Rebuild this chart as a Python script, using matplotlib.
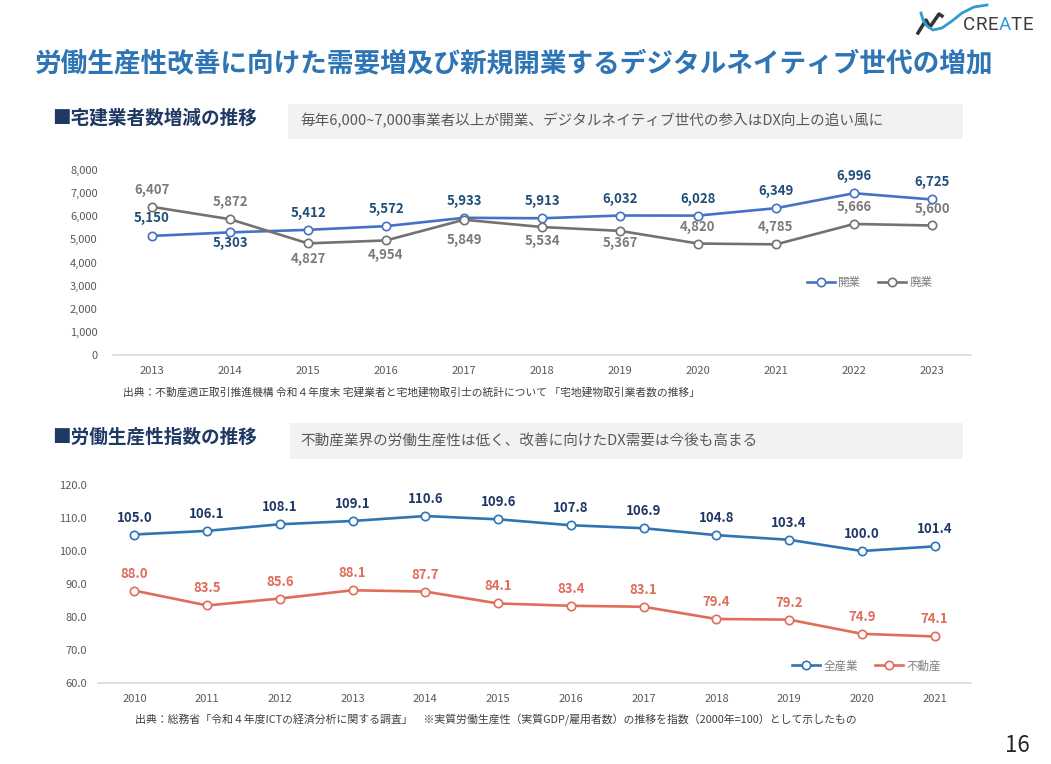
import matplotlib
matplotlib.use("Agg")
import matplotlib.pyplot as plt
from matplotlib.patches import Rectangle
from matplotlib.lines import Line2D

plt.rcParams['font.family'] = ['Noto Sans CJK JP', 'DejaVu Sans']

# --- data -----------------------------------------------------------------
years_top = ["2013", "2014", "2015", "2016", "2017", "2018", "2019", "2020", "2021", "2022", "2023"]
kaigyo = [5150, 5303, 5412, 5572, 5933, 5913, 6032, 6028, 6349, 6996, 6725]     # 開業
haigyo = [6407, 5872, 4827, 4954, 5849, 5534, 5367, 4820, 4785, 5666, 5600]     # 廃業

years_bot = ["2010", "2011", "2012", "2013", "2014", "2015", "2016", "2017", "2018", "2019", "2020", "2021"]
zen_sangyo = [105.0, 106.1, 108.1, 109.1, 110.6, 109.6, 107.8, 106.9, 104.8, 103.4, 100.0, 101.4]  # 全産業
fudosan = [88.0, 83.5, 85.6, 88.1, 87.7, 84.1, 83.4, 83.1, 79.4, 79.2, 74.9, 74.1]              # 不動産

# label offsets in px (positive = above the marker)
kaigyo_off = [18, -11, 17, 17, 17, 17, 17, 17, 17, 17, 17]
haigyo_off = [17, 17, -16, -15, -20, -14, -12, 17, 17, 17, 17]

W, H = 1051, 764
fig = plt.figure(figsize=(W / 100, H / 100), dpi=100)


def fx(x):
    return x / W


def fy(y):
    return 1 - y / H


def line_chart(ax, cats, series, colors, label_colors, offsets, fmt, names, legend_xy):
    xs = list(range(len(cats)))
    for vals, c, lc, offs, name in zip(series, colors, label_colors, offsets, names):
        ax.plot(xs, vals, color=c, lw=1.9, marker="o", ms=6, mfc="white", mec=c, mew=1.2,
                label=name, zorder=3)
        for x, v, o in zip(xs, vals, offs):
            ax.annotate(fmt(v), (x, v), xytext=(0, o * 0.72), textcoords="offset points",
                        ha="center", va="center", fontsize=9.5, fontweight="bold", color=lc)
    ax.set_xticks(xs)
    ax.set_xticklabels(cats)
    ax.set_xlim(-0.5, len(cats) - 0.5)
    for s in ("top", "right", "left"):
        ax.spines[s].set_visible(False)
    ax.spines["bottom"].set_color("#d9d9d9")
    ax.spines["bottom"].set_linewidth(1.2)
    ax.tick_params(length=0, labelsize=8, labelcolor="#595959")
    ax.tick_params(axis="x", pad=8)
    ax.legend(loc="center", bbox_to_anchor=legend_xy, ncol=2, frameon=False, fontsize=8.3,
              labelcolor="#7f7f7f", handlelength=2.4, handletextpad=0.3, columnspacing=1.5)


# --- top chart ----------------------------------------------------------
ax1 = fig.add_axes([fx(113), fy(355), (971 - 113) / W, (355 - 170) / H])
line_chart(ax1, years_top, [kaigyo, haigyo], ["#4472c4", "#767171"], ["#1f4e79", "#7b7b7b"],
           [kaigyo_off, haigyo_off], lambda v: f"{v:,}", ["開業", "廃業"], (0.882, 0.39))
ax1.set_ylim(0, 8000)
ax1.set_yticks(range(0, 8001, 1000))
ax1.set_yticklabels([f"{v:,}" for v in range(0, 8001, 1000)])
ax1.tick_params(axis="y", pad=11)

# --- bottom chart -------------------------------------------------------
ax2 = fig.add_axes([fx(98), fy(683), (971 - 98) / W, (683 - 485) / H])
line_chart(ax2, years_bot, [zen_sangyo, fudosan], ["#2e75b6", "#e06c5a"], ["#1f3864", "#e06c5a"],
           [[17] * 12, [17] * 12], lambda v: f"{v:.1f}", ["全産業", "不動産"], (0.88, 0.086))
ax2.set_ylim(60, 120)
ax2.set_yticks(range(60, 121, 10))
ax2.set_yticklabels([f"{v:.1f}" for v in range(60, 121, 10)])
ax2.tick_params(axis="y", pad=8)

# --- page text ----------------------------------------------------------
fig.text(fx(35), fy(65), "労働生産性改善に向けた需要増及び新規開業するデジタルネイティブ世代の増加",
         fontsize=19.2, fontweight="bold", color="#2e75b6", va="center")

fig.text(fx(52), fy(118), "■宅建業者数増減の推移", fontsize=13.4, fontweight="bold",
         color="#1f3864", va="center")
fig.text(fx(52), fy(437), "■労働生産性指数の推移", fontsize=13.4, fontweight="bold",
         color="#1f3864", va="center")

fig.add_artist(Rectangle((fx(288), fy(139)), (963 - 288) / W, 35 / H, transform=fig.transFigure,
                         facecolor="#f2f2f2", edgecolor="none"))
fig.add_artist(Rectangle((fx(290), fy(459)), (963 - 290) / W, 36 / H, transform=fig.transFigure,
                         facecolor="#f2f2f2", edgecolor="none"))
fig.text(fx(300), fy(121), "毎年6,000~7,000事業者以上が開業、デジタルネイティブ世代の参入はDX向上の追い風に",
         fontsize=10.5, color="#595959", va="center")
fig.text(fx(300), fy(441), "不動産業界の労働生産性は低く、改善に向けたDX需要は今後も高まる",
         fontsize=10.5, color="#595959", va="center")

fig.text(fx(123), fy(392),
         "出典：不動産適正取引推進機構 令和４年度末 宅建業者と宅地建物取引士の統計について 「宅地建物取引業者数の推移」",
         fontsize=7.75, color="#404040", va="center")
fig.text(fx(135), fy(720),
         "出典：総務省「令和４年度ICTの経済分析に関する調査」　※実質労働生産性（実質GDP/雇用者数）の推移を指数（2000年=100）として示したもの",
         fontsize=7.85, color="#404040", va="center")

fig.text(fx(1030), fy(746), "16", fontsize=16, color="#262626", ha="right", va="center")

# logo (rough)
fig.add_artist(Line2D([fx(918), fx(926), fx(930), fx(939), fx(942)],
                      [fy(33), fy(20), fy(27), fy(14), fy(16)],
                      transform=fig.transFigure, color="#333333", lw=2.5))
fig.add_artist(Line2D([fx(921), fx(923), fx(927), fx(933), fx(942), fx(952), fx(962), fx(974), fx(987)],
                      [fy(13), fy(20), fy(26), fy(30), fy(28), fy(21), fy(13), fy(7), fy(5)],
                      transform=fig.transFigure, color="#2e9bd6", lw=2))
for i, ch in enumerate("CREATE"):
    fig.text(fx(969 + i * 11.8), fy(25), ch, fontsize=13.5, color="#2e9bd6" if i == 3 else "#3a3a3a",
             ha="center", va="center", family=["Roboto", "DejaVu Sans"])

fig.savefig("out.png", dpi=100)
